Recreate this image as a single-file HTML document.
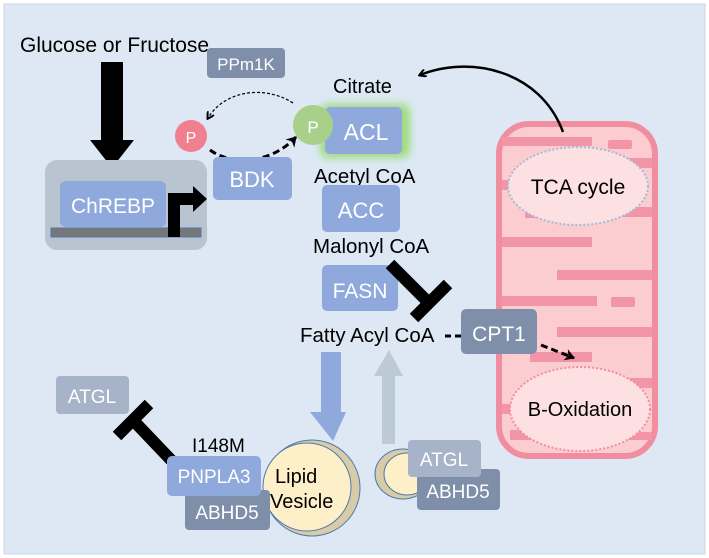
<!DOCTYPE html>
<html><head><meta charset="utf-8"><style>
html,body{margin:0;padding:0;background:#fff}
svg{display:block}
text{font-family:"Liberation Sans",sans-serif}
</style></head><body>
<svg width="709" height="558" viewBox="0 0 709 558" xmlns="http://www.w3.org/2000/svg">
<defs>
<marker id="ah" markerWidth="8" markerHeight="8" refX="6" refY="4" orient="auto" markerUnits="userSpaceOnUse"><path d="M0,0 L7,4 L0,8" fill="none" stroke="#000" stroke-width="2"/></marker>
<marker id="ah2" markerWidth="12" markerHeight="12" refX="9" refY="6" orient="auto" markerUnits="userSpaceOnUse"><path d="M0,0 L10,6 L0,12 L3,6z" fill="#000"/></marker>
<filter id="glow" x="-30%" y="-30%" width="160%" height="160%"><feGaussianBlur stdDeviation="4"/></filter>
</defs>
<rect x="0" y="0" width="709" height="558" fill="#fff"/>
<rect x="4" y="4" width="701" height="550" fill="#dde8f4" stroke="#c9d6e4"/>

<!-- mitochondrion -->
<rect x="499" y="124" width="156" height="332" rx="30" fill="#fccdd0" stroke="#f08ea0" stroke-width="6"/>
<g fill="#f295a6">
<rect x="502" y="137" width="90" height="9"/><rect x="608" y="140" width="24" height="9" rx="2"/>
<rect x="600" y="158" width="52" height="10"/><rect x="502" y="180" width="14" height="10"/>
<rect x="525" y="210" width="20" height="8"/><rect x="600" y="207" width="52" height="10"/>
<rect x="502" y="237" width="90" height="10"/><rect x="557" y="270" width="95" height="10"/>
<rect x="502" y="296" width="95" height="10"/><rect x="611" y="297" width="24" height="10" rx="2"/>
<rect x="557" y="327" width="95" height="10"/><rect x="530" y="352" width="62" height="10"/>
<rect x="600" y="378" width="52" height="10"/><rect x="502" y="404" width="14" height="10"/>
<rect x="510" y="430" width="30" height="10"/><rect x="600" y="432" width="52" height="8"/>
</g>
<ellipse cx="578" cy="186" rx="70" ry="39" fill="#fde0e2" stroke="#9fbcdc" stroke-width="2" stroke-dasharray="2,2"/>
<text x="578" y="194" font-size="21" text-anchor="middle">TCA cycle</text>
<ellipse cx="580" cy="409" rx="70" ry="42" fill="#fde0e2" stroke="#f08ea0" stroke-width="2" stroke-dasharray="2,2"/>
<text x="580" y="416" font-size="20" text-anchor="middle">B-Oxidation</text>

<path d="M563,132 C540,70 470,55 420,75" fill="none" stroke="#000" stroke-width="2.5" marker-end="url(#ah)"/>

<text x="20" y="52" font-size="21">Glucose or Fructose</text>
<path d="M101,62 H123 V140 H134 L112,168 L90,140 H101z" fill="#000"/>
<rect x="45" y="160" width="162" height="90" rx="12" fill="#b8c4d0"/>
<rect x="60" y="181" width="106" height="46" rx="6" fill="#8fa9dc"/>
<text x="113" y="213" font-size="21" fill="#fff" text-anchor="middle">ChREBP</text>
<rect x="51" y="228" width="150" height="9" fill="#777" stroke="#4c79b0"/>
<path d="M168,237 V193 H193 V186 L207,199 L193,212 V205 H180 V237z" fill="#000"/>

<rect x="207" y="48" width="78" height="30" rx="4" fill="#7f8faa"/>
<text x="246" y="70" font-size="17" fill="#fff" text-anchor="middle">PPm1K</text>

<path d="M293,103 C265,85 225,90 208,118" fill="none" stroke="#000" stroke-width="1.2" stroke-dasharray="3,2" marker-end="url(#ah)"/>
<path d="M210,150 C230,165 270,165 296,137" fill="none" stroke="#000" stroke-width="3" stroke-dasharray="7,4" marker-end="url(#ah2)"/>

<rect x="213" y="157" width="79" height="43" rx="5" fill="#8fa9dc"/>
<text x="252" y="187" font-size="22" fill="#fff" text-anchor="middle">BDK</text>

<circle cx="191" cy="136" r="16" fill="#f08090"/>
<text x="191" y="143" font-size="16" fill="#fff" text-anchor="middle">P</text>

<rect x="320" y="104" width="90" height="54" rx="8" fill="#9fdc7e" filter="url(#glow)"/>
<rect x="325" y="107" width="77" height="47" rx="5" fill="#8fa9dc"/>
<text x="366" y="140" font-size="23" fill="#fff" text-anchor="middle">ACL</text>
<circle cx="313" cy="125" r="20" fill="#a8d08a"/>
<text x="313" y="133" font-size="17" fill="#fff" text-anchor="middle">P</text>
<text x="333" y="93" font-size="20">Citrate</text>

<text x="314" y="183" font-size="20.5">Acetyl CoA</text>
<rect x="322" y="185" width="78" height="47" rx="5" fill="#8fa9dc"/>
<text x="361" y="218" font-size="22" fill="#fff" text-anchor="middle">ACC</text>
<text x="313" y="253" font-size="20.5">Malonyl CoA</text>
<rect x="322" y="265" width="76" height="46" rx="5" fill="#8fa9dc"/>
<text x="360" y="298" font-size="21" fill="#fff" text-anchor="middle">FASN</text>
<text x="300" y="342" font-size="20.5">Fatty Acyl CoA</text>

<path d="M390,264 L428,302" stroke="#000" stroke-width="12"/>
<path d="M414,318 L448,284" stroke="#000" stroke-width="12"/>

<path d="M445,336 H462" stroke="#000" stroke-width="3" stroke-dasharray="6,4"/>
<rect x="461" y="309" width="76" height="45" rx="5" fill="#7f8faa"/>
<text x="499" y="341" font-size="21" fill="#fff" text-anchor="middle">CPT1</text>
<path d="M541,345 L574,358" stroke="#000" stroke-width="3" stroke-dasharray="7,4" marker-end="url(#ah2)"/>

<path d="M321,352 H341 V412 H346 L333,441 L310,412 H321z" fill="#8fa9dc"/>
<path d="M382,444 H395 V376 H403 L389,350 L374,376 H382z" fill="#bccad5"/>

<rect x="56" y="376" width="73" height="38" rx="4" fill="#a6b3c8"/>
<text x="92" y="403" font-size="19" fill="#fff" text-anchor="middle">ATGL</text>
<path d="M171,460 L130,417" stroke="#000" stroke-width="12"/>
<path d="M117,436 L149,404" stroke="#000" stroke-width="12"/>
<text x="192" y="452" font-size="19">I148M</text>

<circle cx="312" cy="488" r="48" fill="#d8cca8" stroke="#4c79b0" stroke-width="1"/>
<circle cx="307" cy="487" r="44" fill="#fdf0c8" stroke="#4c79b0" stroke-width="1"/>
<text x="275" y="483" font-size="20">Lipid</text>
<text x="270" y="508" font-size="20">Vesicle</text>
<rect x="185" y="490" width="85" height="40" rx="4" fill="#7f8faa"/>
<text x="227" y="519" font-size="19" fill="#fff" text-anchor="middle">ABHD5</text>
<rect x="167" y="456" width="94" height="40" rx="5" fill="#8fa9dc"/>
<text x="214" y="483" font-size="19" fill="#fff" text-anchor="middle">PNPLA3</text>

<ellipse cx="403" cy="474" rx="28" ry="25" fill="#d8cca8" stroke="#4c79b0"/>
<ellipse cx="407" cy="474" rx="23" ry="21" fill="#fdf0c8" stroke="#4c79b0"/>
<rect x="417" y="469" width="83" height="41" rx="4" fill="#7f8faa"/>
<text x="458" y="498" font-size="19" fill="#fff" text-anchor="middle">ABHD5</text>
<rect x="408" y="440" width="73" height="37" rx="4" fill="#a6b3c8"/>
<text x="444" y="466" font-size="19" fill="#fff" text-anchor="middle">ATGL</text>
</svg>
</body></html>
